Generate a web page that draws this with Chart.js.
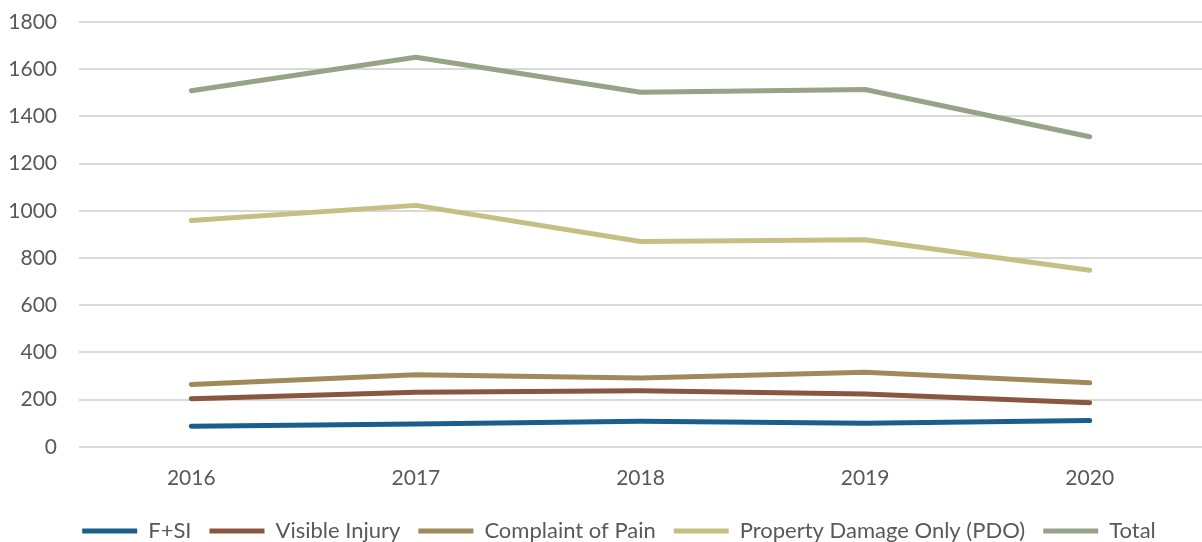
<!DOCTYPE html>
<html>
<head>
<meta charset="utf-8">
<script src="https://cdn.jsdelivr.net/npm/chart.js@4/dist/chart.umd.min.js"></script>
<style>
  html, body { margin: 0; padding: 0; background: #ffffff; }
  #wrap { width: 1202px; height: 542px; position: relative; }
</style>
</head>
<body>
<div id="wrap"><canvas id="c"></canvas></div>
<script>
const years = ['2016', '2017', '2018', '2019', '2020'];
const fsi = [87, 97, 108, 100, 111];
const visibleInjury = [204, 231, 237, 224, 187];
const complaintOfPain = [264, 305, 292, 316, 271];
const pdo = [959, 1023, 870, 877, 748];
const total = [1509, 1651, 1502, 1514, 1314];
const yTicks = [0, 200, 400, 600, 800, 1000, 1200, 1400, 1600, 1800];

const seriesNames = ['F+SI', 'Visible Injury', 'Complaint of Pain', 'Property Damage Only (PDO)', 'Total'];
const seriesColors = ['#1b5e8e', '#8a5640', '#a08a5a', '#c6bf84', '#96a388'];
const seriesData = [fsi, visibleInjury, complaintOfPain, pdo, total];

const datasets = seriesNames.map((name, i) => ({
  label: name,
  data: seriesData[i],
  borderColor: seriesColors[i],
  backgroundColor: seriesColors[i],
  borderWidth: 5,
  borderCapStyle: 'round',
  borderJoinStyle: 'round',
  pointRadius: 0,
  pointHoverRadius: 0,
  tension: 0,
  fill: false
}));

const FONT = 'Lato, "Open Sans", sans-serif';

const legendShift = {
  id: 'legendShift',
  afterLayout(chart) {
    if (chart.legend) {
      chart.legend.left += 14;
      chart.legend.right += 14;
    }
  }
};

new Chart(document.getElementById('c'), {
  type: 'line',
  data: { labels: years, datasets: datasets },
  plugins: [legendShift],
  options: {
    responsive: true,
    maintainAspectRatio: false,
    animation: false,
    layout: { padding: { top: 22, right: -8, bottom: -10, left: 0 } },
    plugins: {
      tooltip: { enabled: false },
      legend: {
        position: 'bottom',
        labels: {
          usePointStyle: true,
          pointStyle: 'line',
          pointStyleWidth: 55,
          padding: 18,
          color: '#595959',
          font: { family: FONT, size: 22 }
        }
      }
    },
    scales: {
      x: {
        offset: true,
        grid: { display: false },
        border: { display: false },
        ticks: { color: '#595959', font: { family: FONT, size: 21 }, padding: 11 }
      },
      y: {
        min: 0,
        max: 1800,
        afterBuildTicks: (axis) => { axis.ticks = yTicks.map(v => ({ value: v })); },
        afterFit: (axis) => { axis.width = 79; axis.paddingTop = 0; axis.paddingBottom = 0; },
        grid: { color: '#d9d9d9', lineWidth: 2, drawTicks: false },
        border: { display: false },
        ticks: {
          color: '#595959',
          font: { family: FONT, size: 21 },
          padding: 22,
          callback: (v) => String(v)
        }
      }
    }
  }
});
</script>
</body>
</html>
